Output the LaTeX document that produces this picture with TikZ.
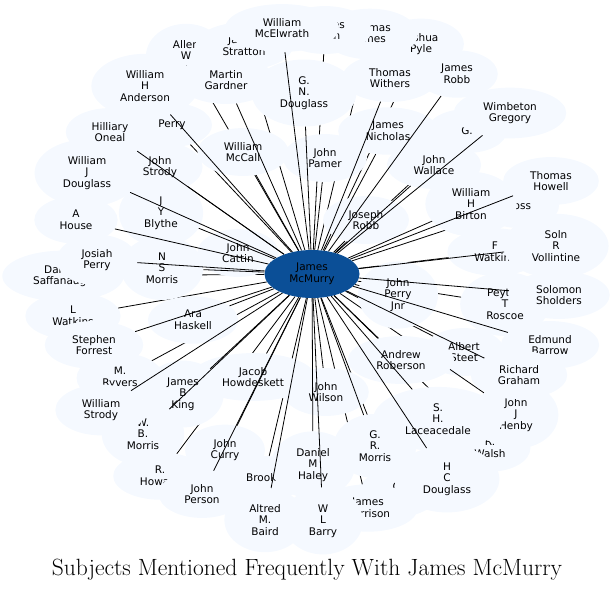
\documentclass[tikz,border=0pt]{standalone}
\usepackage{fontspec}
\newfontfamily\dejavu{DejaVu Sans}
\usetikzlibrary{shapes.geometric,arrows}
\definecolor{cloud}{RGB}{245,249,255}
\definecolor{hubblue}{RGB}{11,79,151}
\pgfdeclarelayer{front}
\pgfsetlayers{main,front}

\begin{document}
\begin{tikzpicture}[x=1pt,y=-1pt]
\tikzstyle{subject}=[ellipse, fill=cloud, draw=none, align=center,
	inner xsep=13pt, inner ysep=7pt, minimum width=80pt, minimum height=44pt,
	font=\dejavu\fontsize{10.5}{11.7}\selectfont
]
\tikzstyle{hub}=[ellipse, fill=hubblue, draw=none, align=center, inner sep=0pt,
	minimum width=95pt, minimum height=48pt,
	font=\dejavu\fontsize{10.5}{11.7}\selectfont
]
\tikzstyle{link}=[-, line width=0.8pt]
\useasboundingbox (0,0) rectangle (615,592);

\begin{pgfonlayer}{front}
\node[hub] (mc) at (312,274) {James\\McMurry};
\end{pgfonlayer}

% names that end up mostly covered
\node[subject] (pyle) at (421,44) {Joshua\\Pyle};
\path[link] (mc) edge (pyle);
\node[subject] (tjames) at (370,34) {Thomas\\James};
\path[link] (mc) edge (tjames);
\node[subject] (csmith) at (325,30) {Charles\\Smith};
\path[link] (mc) edge (csmith);
\node[subject] (allen) at (186,56) {Allen\\W\\Carr};
\path[link] (mc) edge (allen);
\node[subject] (stratton) at (244,46) {James\\Stratton};
\path[link] (mc) edge (stratton);
\node[subject] (hart) at (467,131) {G.};
\path[link] (mc) edge (hart);
\node[subject] (ross) at (519,206) {Ross};
\path[link] (mc) edge (ross);
\node[subject] (saffanaugh) at (63,276) {Darnell\\Saffanaugh};
\path[link] (mc) edge (saffanaugh);
\node[subject] (lwatkins) at (73,316) {L\\Watkins};
\path[link] (mc) edge (lwatkins);
\node[subject] (fwatkins) at (495,252) {F\\Watkins};
\path[link] (mc) edge (fwatkins);
\node[subject] (roscoe) at (505,304) {Peyton\\T\\Roscoe};
\path[link] (mc) edge (roscoe);
\node[subject] (steet) at (464,352) {Albert\\Steet};
\path[link] (mc) edge (steet);
\node[subject] (walsh) at (490,448) {R.\\Walsh};
\path[link] (mc) edge (walsh);
\node[subject] (cole) at (398,493) {C.\\Cole};
\path[link] (mc) edge (cole);
\node[subject] (harrison) at (368,508) {James\\Harrison};
\path[link] (mc) edge (harrison);
\node[subject] (howard) at (160,476) {R.\\Howard};
\path[link] (mc) edge (howard);
\node[subject] (ryvers) at (120,378) {M.\\Ryvers};
\path[link] (mc) edge (ryvers);
\node[subject] (henby) at (516,415) {John\\J\\Henby};
\path[link] (mc) edge (henby);
\node[subject] (brooks) at (264,478) {Brooks};
\path[link] (mc) edge (brooks);
\node[subject] (perry) at (172,125) {Perry};
\path[link] (mc) edge (perry);

% inner ring
\node[subject] (pamer) at (325,158) {John\\Pamer};
\path[link] (mc) edge (pamer);
\node[subject] (jrobb) at (366,220) {Joseph\\Robb};
\path[link] (mc) edge (jrobb);
\node[subject] (cattin) at (238,253) {John\\Cattin};
\path[link] (mc) edge (cattin);
\node[subject] (mccall) at (243,152) {William\\McCall};
\path[link] (mc) edge (mccall);
\node[subject] (nicholas) at (388,131) {James\\Nicholas};
\path[link] (mc) edge (nicholas);
\node[subject] (perryjnr) at (398,295) {John\\Perry\\Jnr};
\path[link] (mc) edge (perryjnr);
\node[subject] (haskell) at (193,320) {Ara\\Haskell};
\path[link] (mc) edge (haskell);
\node[subject] (howdeskett) at (253,377) {Jacob\\Howdeskett};
\path[link] (mc) edge (howdeskett);
\node[subject] (wilson) at (326,392) {John\\Wilson};
\path[link] (mc) edge (wilson);
\node[subject] (roberson) at (401,360) {Andrew\\Roberson};
\path[link] (mc) edge (roberson);
\node[subject] (nsmorris) at (162,268) {N\\S\\Morris};
\path[link] (mc) edge (nsmorris);
\node[subject] (blythe) at (161,213) {J\\Y\\Blythe};
\path[link] (mc) edge (blythe);
\node[subject] (wallace) at (434,165) {John\\Wallace};
\path[link] (mc) edge (wallace);
\node[subject] (gndouglass) at (304,93) {G.\\N.\\Douglass};
\path[link] (mc) edge (gndouglass);
\node[subject] (gardner) at (226,80) {Martin\\Gardner};
\path[link] (mc) edge (gardner);
\node[subject] (curry) at (225,450) {John\\Curry};
\path[link] (mc) edge (curry);
\node[subject] (haley) at (313,465) {Daniel\\M\\Haley};
\path[link] (mc) edge (haley);
\node[subject] (king) at (183,394) {James\\B\\King};
\path[link] (mc) edge (king);
\node[subject] (grmorris) at (375,446) {G.\\R.\\Morris};
\path[link] (mc) edge (grmorris);
\node[subject] (laceacedale) at (438,419) {S.\\H.\\Laceacedale};
\path[link] (mc) edge (laceacedale);
\node[subject] (birton) at (471,204) {William\\H\\Birton};
\path[link] (mc) edge (birton);
\node[subject] (jstrody) at (160,167) {John\\Strody};
\path[link] (mc) edge (jstrody);
\node[subject] (wbmorris) at (143,434) {W.\\B.\\Morris};
\path[link] (mc) edge (wbmorris);

% outer ring
\node[subject] (mcelwrath) at (282,28) {William\\McElwrath};
\path[link] (mc) edge (mcelwrath);
\node[subject] (withers) at (390,78) {Thomas\\Withers};
\path[link] (mc) edge (withers);
\node[subject] (jamesrobb) at (457,74) {James\\Robb};
\path[link] (mc) edge (jamesrobb);
\node[subject] (gregory) at (510,113) {Wimbeton\\Gregory};
\path[link] (mc) edge (gregory);
\node[subject] (howell) at (551,181) {Thomas\\Howell};
\path[link] (mc) edge (howell);
\node[subject] (vollintine) at (556,246) {Soln\\R\\Vollintine};
\path[link] (mc) edge (vollintine);
\node[subject] (sholders) at (559,295) {Solomon\\Sholders};
\path[link] (mc) edge (sholders);
\node[subject] (barrow) at (550,345) {Edmund\\Barrow};
\path[link] (mc) edge (barrow);
\node[subject] (graham) at (519,375) {Richard\\Graham};
\path[link] (mc) edge (graham);
\node[subject] (hcdouglass) at (447,479) {H\\C\\Douglass};
\path[link] (mc) edge (hcdouglass);
\node[subject] (barry) at (323,521) {W\\L\\Barry};
\path[link] (mc) edge (barry);
\node[subject] (baird) at (265,520) {Altred\\M.\\Baird};
\path[link] (mc) edge (baird);
\node[subject] (person) at (202,494) {John\\Person};
\path[link] (mc) edge (person);
\node[subject] (wstrody) at (101,410) {William\\Strody};
\path[link] (mc) edge (wstrody);
\node[subject] (forrest) at (94,345) {Stephen\\Forrest};
\path[link] (mc) edge (forrest);
\node[subject] (josiah) at (97,260) {Josiah\\Perry};
\path[link] (mc) edge (josiah);
\node[subject] (house) at (76,220) {A\\House};
\path[link] (mc) edge (house);
\node[subject] (wjdouglass) at (87,173) {William\\J\\Douglass};
\path[link] (mc) edge (wjdouglass);
\node[subject] (oneal) at (110,132) {Hilliary\\Oneal};
\path[link] (mc) edge (oneal);
\node[subject] (anderson) at (145,86) {William\\H\\Anderson};
\path[link] (mc) edge (anderson);

\node[font=\fontsize{23.5}{27}\selectfont] (title) at (307,570) {Subjects Mentioned Frequently With James McMurry};
\end{tikzpicture}
\end{document}
